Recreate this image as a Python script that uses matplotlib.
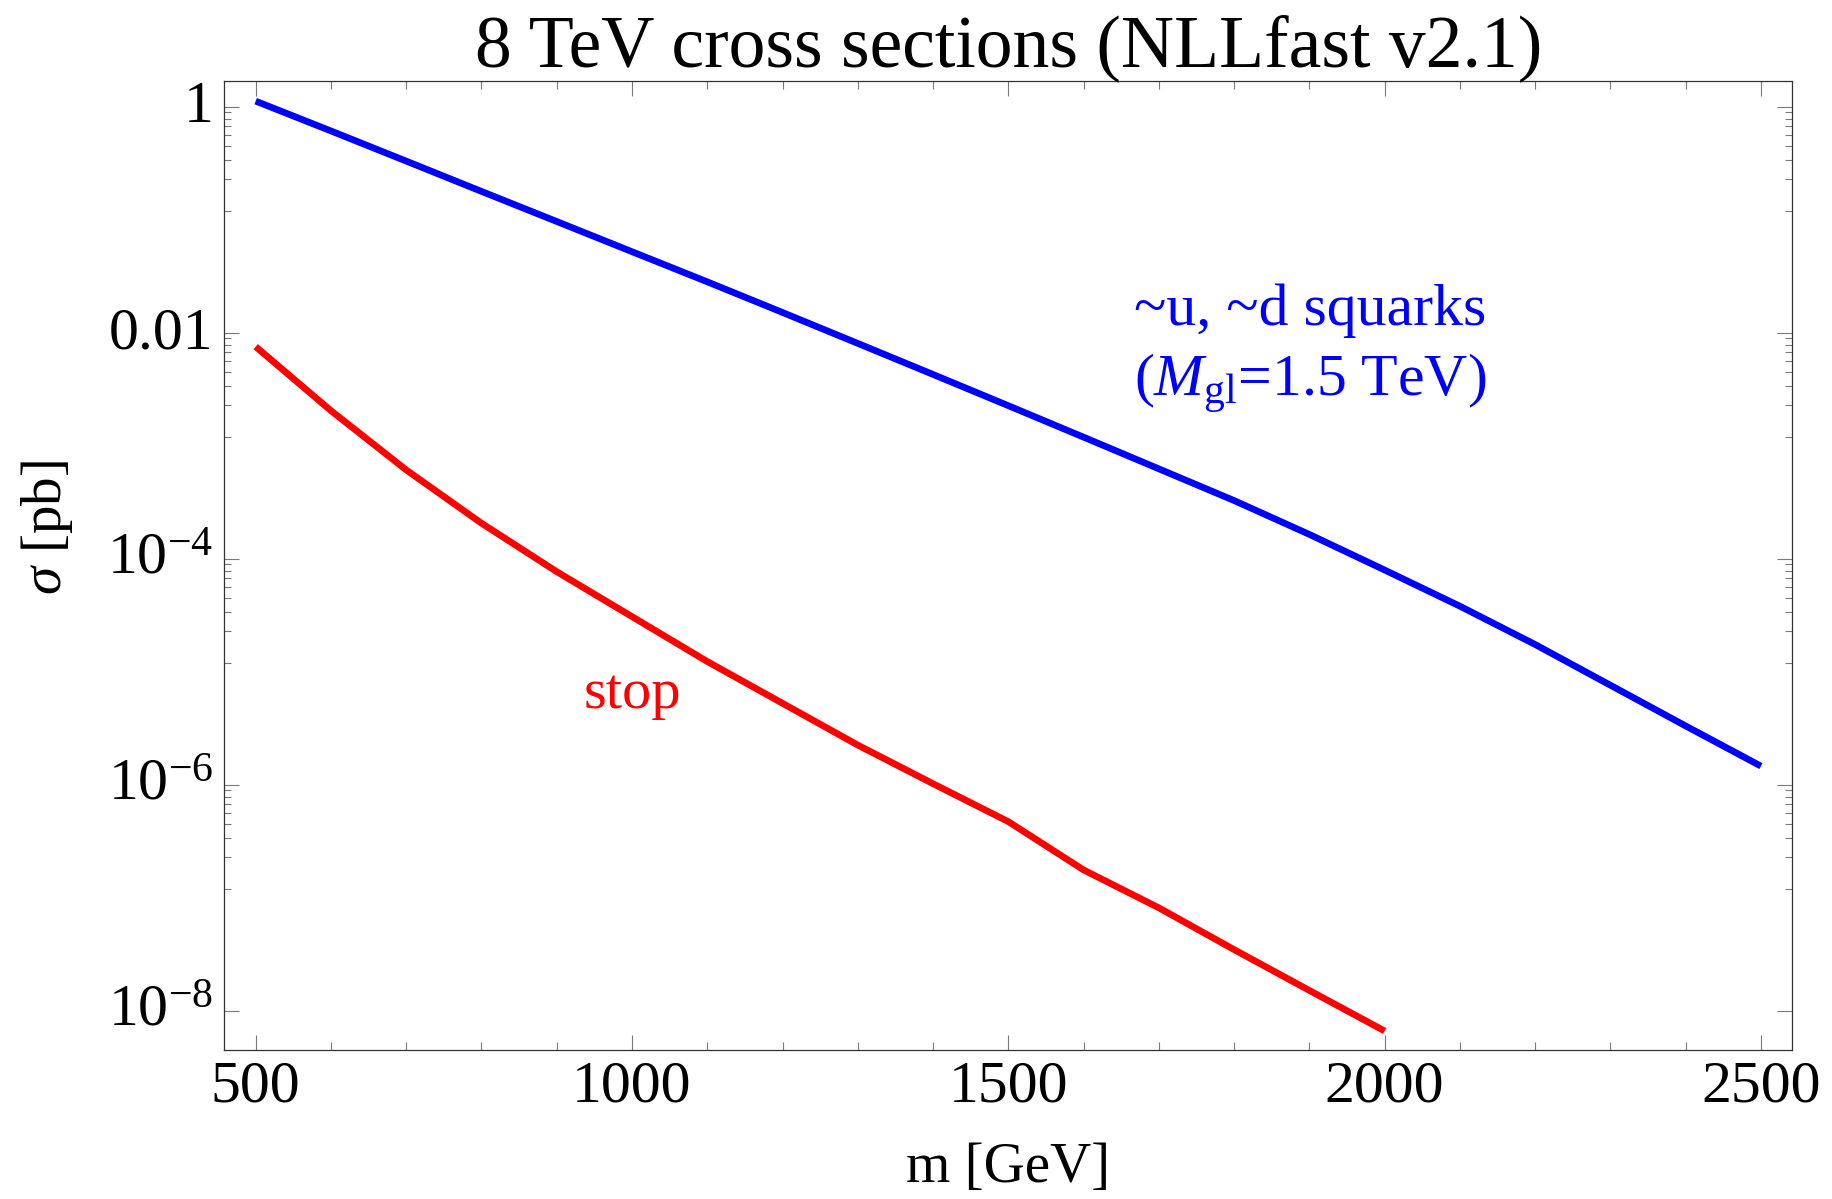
import matplotlib
matplotlib.use("Agg")
import matplotlib.pyplot as plt
from matplotlib.ticker import FixedLocator, FixedFormatter, NullFormatter
from matplotlib.transforms import ScaledTranslation

# NLLfast v2.1 cross sections at 8 TeV (pb)
squark_mass_gev = [500, 600, 700, 800, 900, 1000, 1100, 1200, 1300, 1400, 1500,
                   1600, 1700, 1800, 1900, 2000, 2100, 2200, 2300, 2400, 2500]
squark_xsec_pb = [1.12, 0.610, 0.330, 0.178, 0.0964, 0.0521, 0.0282, 0.0151,
                  0.00804, 0.00427, 0.00226, 0.00119, 6.24e-4, 3.27e-4, 1.64e-4,
                  7.94e-5, 3.80e-5, 1.74e-5, 7.59e-6, 3.31e-6, 1.46e-6]

stop_mass_gev = [500, 600, 700, 800, 900, 1000, 1100, 1200, 1300, 1400, 1500,
                 1600, 1700, 1800, 1900, 2000]
stop_xsec_pb = [7.52e-3, 2.04e-3, 6.10e-4, 2.06e-4, 7.67e-5, 3.07e-5, 1.23e-5,
                5.25e-6, 2.24e-6, 1.02e-6, 4.71e-7, 1.76e-7, 8.13e-8, 3.47e-8,
                1.51e-8, 6.61e-9]

x_major = [500, 1000, 1500, 2000, 2500]
x_major_labels = ["500", "1000", "1500", "2000", "2500"]
x_minor = [m for m in range(600, 2500, 100) if m % 500 != 0]

y_major = [1.0, 1e-2, 1e-4, 1e-6, 1e-8]
y_major_labels = ["1", "0.01", r"$10^{-4}$", r"$10^{-6}$", r"$10^{-8}$"]
minor_factors = [0.89, 0.78, 0.67, 0.56, 0.45, 0.34, 0.23, 0.12]
y_minor = [f * d for d in y_major[:-1] for f in minor_factors]

plt.rcParams.update({
    "font.family": ["Liberation Serif", "DejaVu Serif"],
    "mathtext.fontset": "custom",
    "mathtext.rm": "Liberation Serif",
    "mathtext.it": "Liberation Serif:italic",
    "mathtext.bf": "Liberation Serif:bold",
})

W, H = 1832, 1199
fig = plt.figure(figsize=(W / 100, H / 100), dpi=100)
ax = fig.add_axes([224.3 / W, 1 - 1050.3 / H, (1792.3 - 224.3) / W, (1050.3 - 81) / H])

ax.plot(squark_mass_gev, squark_xsec_pb, color="#0000ff", lw=4.8,
        solid_capstyle="butt", solid_joinstyle="round")
ax.plot(stop_mass_gev, stop_xsec_pb, color="#ff0000", lw=4.8,
        solid_capstyle="butt", solid_joinstyle="round")

ax.set_yscale("log")
ax.set_xlim(458.3, 2541.7)
ax.set_ylim(4.46e-9, 1.688)

ax.xaxis.set_major_locator(FixedLocator(x_major))
ax.xaxis.set_major_formatter(FixedFormatter(x_major_labels))
ax.xaxis.set_minor_locator(FixedLocator(x_minor))
ax.xaxis.set_minor_formatter(NullFormatter())
ax.yaxis.set_major_locator(FixedLocator(y_major))
ax.yaxis.set_major_formatter(FixedFormatter(y_major_labels))
ax.yaxis.set_minor_locator(FixedLocator(y_minor))
ax.yaxis.set_minor_formatter(NullFormatter())

tick_color = "#7a7a7a"
ax.tick_params(which="both", direction="in", top=True, right=True,
               color=tick_color, width=0.8, labelsize=43, labelcolor="black")
ax.tick_params(axis="x", which="major", length=10.8, pad=7.0)
ax.tick_params(axis="x", which="minor", length=5.8)
ax.tick_params(axis="y", which="major", length=10.8, pad=8)
ax.tick_params(axis="y", which="minor", length=4.8)
for sp in ax.spines.values():
    sp.set_color("#333333")
    sp.set_linewidth(0.9)

# lift the y tick labels slightly above their ticks
lift = ScaledTranslation(0, 5 / 100, fig.dpi_scale_trans)
for lbl in ax.get_yticklabels():
    lbl.set_transform(lbl.get_transform() + lift)

ax.text(0.6924, 0.7483, "~u, ~d squarks", transform=ax.transAxes,
        ha="center", va="baseline", color="#0000ff", fontsize=43)
ax.text(0.6924, 0.6754, r"($M_{\rm gl}$=1.5 TeV)", transform=ax.transAxes,
        ha="center", va="baseline", color="#0000ff", fontsize=43)
ax.text(0.2603, 0.3531, "stop", transform=ax.transAxes,
        ha="center", va="baseline", color="#ff0000", fontsize=42)

fig.text(1008.3 / W, 1 - 66.6 / H, "8 TeV cross sections (NLLfast v2.1)",
         ha="center", va="baseline", fontsize=53)
fig.text(1008.3 / W, 1 - 1182 / H, "m [GeV]", ha="center", va="baseline",
         fontsize=41)
fig.text(47 / W, 1 - 528 / H, r"$\sigma$ [pb]", rotation=90,
         ha="center", va="center", fontsize=41)

fig.savefig("out.png", dpi=100, facecolor="white")
